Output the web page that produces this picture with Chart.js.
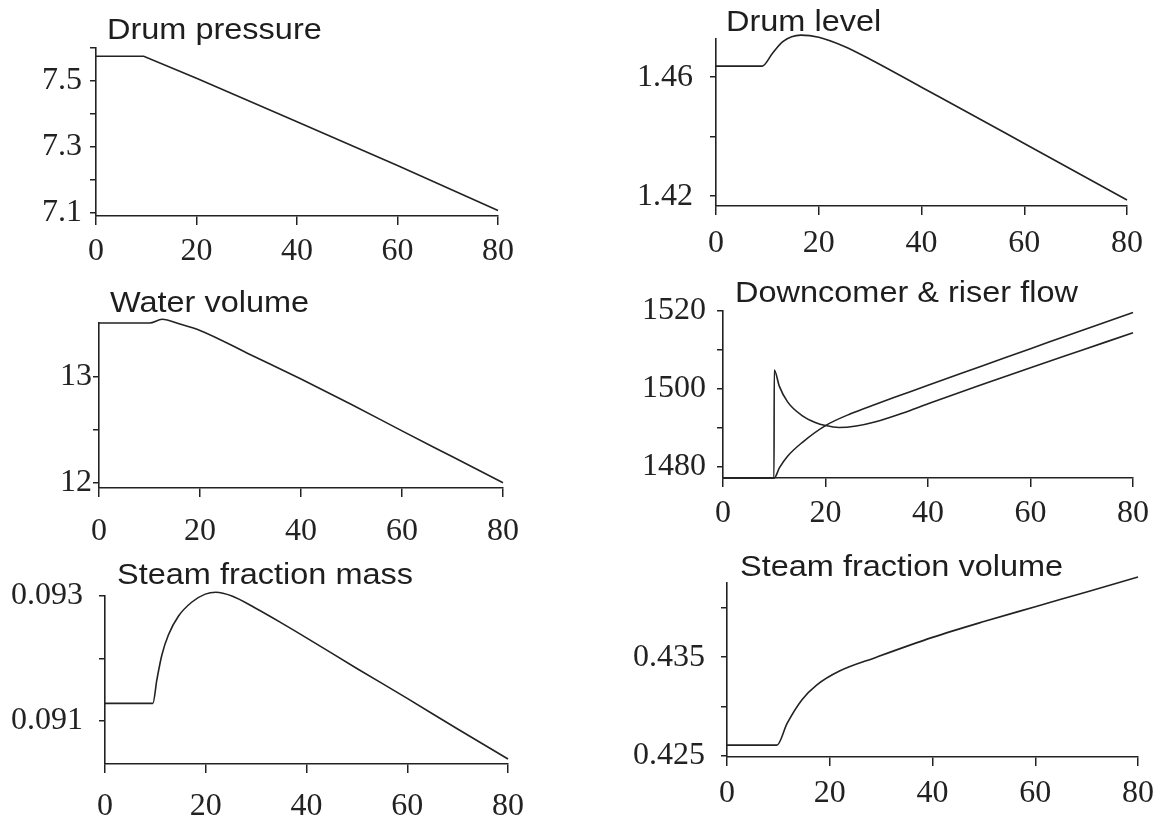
<!DOCTYPE html>
<html><head><meta charset="utf-8">
<script src="https://cdn.jsdelivr.net/npm/chart.js@4.4.1/dist/chart.umd.min.js"></script>
<style>
html,body{margin:0;padding:0;background:#fff;}
body{width:1160px;height:818px;position:relative;overflow:hidden;}
canvas{position:absolute;}
.ttl{position:absolute;font-family:"Liberation Sans",Arial,sans-serif;font-size:29px;line-height:29px;color:#1e1e1e;white-space:nowrap;transform:scaleX(1.12);transform-origin:0 0;}
</style></head><body>
<script>
// ---------- data ----------
const xTickValues = [0, 20, 40, 60, 80];

const pressureTime   = [0, 9.5, 20, 40, 60, 80];
const pressureValues = [7.575, 7.575, 7.508, 7.376, 7.243, 7.107];
const pressureTicks  = [7.1, 7.2, 7.3, 7.4, 7.5, 7.6];
const pressureLabels = ["7.1", "7.3", "7.5"];

const levelTime   = [0, 9, 11, 13, 16.5, 20, 25, 30, 40, 50, 60, 70, 80];
const levelValues = [1.4637, 1.4637, 1.468, 1.4719, 1.4741, 1.4734, 1.4703, 1.466, 1.4566, 1.4472, 1.4377, 1.4282, 1.4187];
const levelTicks  = [1.42, 1.44, 1.46];
const levelLabels = ["1.42", "1.46"];

const volumeTime   = [0, 10, 12.5, 16, 20, 30, 40, 50, 60, 70, 80];
const volumeValues = [13.51, 13.51, 13.545, 13.5, 13.44, 13.21, 12.98, 12.74, 12.49, 12.245, 12.0];
const volumeTicks  = [12, 12.5, 13];
const volumeLabels = ["12", "13"];

const downcomerTime   = [0, 9.95, 10, 11, 12.6, 15.5, 18, 20, 22.6, 26, 29.8, 35, 40, 50, 60, 70, 80];
const downcomerValues = [1477, 1477, 1504.8, 1500.6, 1496.6, 1493.0, 1491.3, 1490.5, 1490.0, 1490.4, 1491.5, 1493.7, 1496.1, 1500.8, 1505.4, 1509.9, 1514.4];
const riserTime   = [0, 10, 11, 12.6, 15.5, 20, 25, 29.8, 35, 40, 50, 60, 70, 80];
const riserValues = [1477, 1477, 1479.6, 1482.6, 1486.2, 1490.5, 1493.6, 1496.0, 1498.5, 1500.9, 1505.6, 1510.3, 1515.0, 1519.6];
const flowTicks  = [1480, 1490, 1500, 1510, 1520];
const flowLabels = ["1480", "1500", "1520"];

const massTime   = [0, 9.5, 10.3, 11.3, 12.6, 14.6, 17.2, 19.9, 22, 25.2, 30, 35, 40, 50, 60, 70, 80];
const massValues = [0.09128, 0.09128, 0.09166, 0.09206, 0.09238, 0.09268, 0.0929, 0.09303, 0.09306, 0.093, 0.0928, 0.09257, 0.09233, 0.09184, 0.09136, 0.09087, 0.09039];
const massTicks  = [0.091, 0.092, 0.093];
const massLabels = ["0.091", "0.093"];

const fracVolTime   = [0, 9.7, 11.7, 14.6, 17.5, 21.9, 29.1, 40, 50, 60, 70, 80];
const fracVolValues = [0.4261, 0.4261, 0.4283, 0.4307, 0.4322, 0.4336, 0.435, 0.437, 0.4386, 0.4401, 0.4416, 0.4431];
const fracVolTicks  = [0.425, 0.43, 0.435, 0.44];
const fracVolLabels = ["0.425", "0.435"];

// ---------- layout / style ----------
const INK = '#222222';
const SERIF = '"Liberation Serif", "Times New Roman", serif';

const panels = [
  { title: 'Drum pressure', tx: 107, ty: 15, L: 96, T: 48, R: 498, B: 216, min: 7.09, max: 7.6,
    ticks: pressureTicks, labels: pressureLabels, pad: 8, xpad: 7, smooth: false,
    series: [[pressureTime, pressureValues]] },
  { title: 'Drum level', tx: 726, ty: 7, L: 716, T: 39, R: 1127, B: 206, min: 1.4167, max: 1.4728,
    ticks: levelTicks, labels: levelLabels, pad: 17, xpad: 9, smooth: true,
    series: [[levelTime, levelValues]] },
  { title: 'Water volume', tx: 110, ty: 288, L: 99, T: 323, R: 503, B: 488, min: 11.95, max: 13.51,
    ticks: volumeTicks, labels: volumeLabels, pad: 1, xpad: 15, smooth: true,
    series: [[volumeTime, volumeValues]] },
  { title: 'Downcomer & riser flow', tx: 735, ty: 278, L: 723, T: 311, R: 1133, B: 478, min: 1477, max: 1520,
    ticks: flowTicks, labels: flowLabels, pad: 11, xpad: 7, smooth: true,
    series: [[downcomerTime, downcomerValues], [riserTime, riserValues]] },
  { title: 'Steam fraction mass', tx: 117, ty: 560, L: 105, T: 596, R: 508, B: 764, min: 0.09031, max: 0.093,
    ticks: massTicks, labels: massLabels, pad: 16, xpad: 14, smooth: true,
    series: [[massTime, massValues]] },
  { title: 'Steam fraction volume', tx: 740, ty: 552, L: 727, T: 583, R: 1138, B: 757, min: 0.4249, max: 0.4425,
    ticks: fracVolTicks, labels: fracVolLabels, pad: 16, xpad: 8, smooth: true,
    series: [[fracVolTime, fracVolValues]] }
];

function labelFor(list, v) {
  const s = list.find(t => Math.abs(parseFloat(t) - v) < 1e-9);
  return s === undefined ? '' : s;
}

function makePanel(p) {
  const Y = 96, X = 70, T = 26, R = 28;
  const W = (p.R - p.L) + Y + R, H = (p.B - p.T) + T + X;
  const c = document.createElement('canvas');
  c.width = W; c.height = H;
  c.style.left = (p.L - Y) + 'px'; c.style.top = (p.T - T) + 'px';
  c.style.width = W + 'px'; c.style.height = H + 'px';
  document.body.appendChild(c);

  const d = document.createElement('div');
  d.className = 'ttl'; d.textContent = p.title;
  d.style.left = p.tx + 'px'; d.style.top = p.ty + 'px';
  document.body.appendChild(d);

  const gridBase = { display: true, drawOnChartArea: false, drawTicks: true, color: INK, lineWidth: 1.5 };
  new Chart(c, {
    type: 'line',
    data: {
      datasets: p.series.map(s => ({
        data: s[0].map((t, i) => ({ x: t, y: s[1][i] })),
        borderColor: INK, borderWidth: 1.6, pointRadius: 0, fill: false,
        cubicInterpolationMode: p.smooth ? 'monotone' : 'default', tension: 0, clip: false
      }))
    },
    options: {
      responsive: false, animation: false, devicePixelRatio: 1,
      layout: { padding: { left: 0, top: T, right: R, bottom: 0 } },
      plugins: { legend: { display: false }, tooltip: { enabled: false }, title: { display: false } },
      scales: {
        x: {
          type: 'linear', min: 0, max: 80,
          afterBuildTicks: s => { s.ticks = xTickValues.map(v => ({ value: v })); },
          afterFit: s => { s.height = X; s.paddingLeft = 0; s.paddingRight = 0; },
          grid: Object.assign({}, gridBase, { tickLength: 9 }),
          border: { display: true, color: INK, width: 1.6 },
          ticks: { font: { family: SERIF, size: 32 }, color: INK, padding: p.xpad, maxRotation: 0, autoSkip: false,
                   callback: v => String(v) }
        },
        y: {
          type: 'linear', min: p.min, max: p.max,
          afterBuildTicks: s => { s.ticks = p.ticks.map(v => ({ value: v })); },
          afterFit: s => { s.width = Y; s.paddingTop = 0; s.paddingBottom = 0; },
          grid: Object.assign({}, gridBase, { tickLength: 6 }),
          border: { display: true, color: INK, width: 1.6 },
          ticks: { font: { family: SERIF, size: 32 }, color: INK, padding: p.pad, autoSkip: false,
                   callback: v => labelFor(p.labels, v) }
        }
      }
    }
  });
}

panels.forEach(makePanel);
</script>
</body></html>
